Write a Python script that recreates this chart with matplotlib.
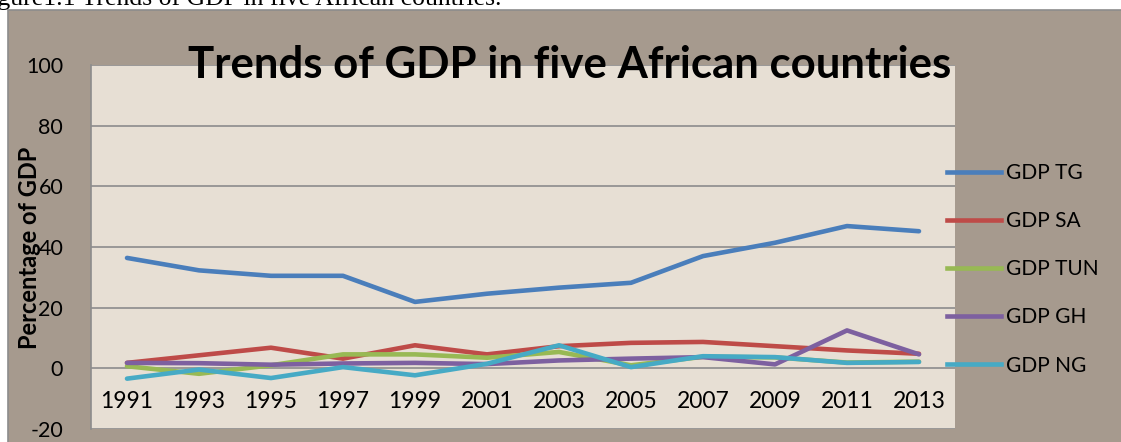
import matplotlib
matplotlib.use("Agg")
import matplotlib.pyplot as plt
from matplotlib.patches import Rectangle
from matplotlib.lines import Line2D

years = ["1991", "1993", "1995", "1997", "1999", "2001", "2003", "2005", "2007", "2009", "2011", "2013"]
gdp_tg = [36.4, 32.3, 30.5, 30.5, 21.9, 24.6, 26.6, 28.2, 37.0, 41.4, 46.9, 45.2]
gdp_sa = [1.8, 4.3, 6.8, 3.2, 7.6, 4.6, 7.3, 8.4, 8.7, 7.3, 5.9, 4.8]
gdp_tun = [0.7, -1.8, 1.0, 4.6, 4.6, 3.5, 5.4, 1.0, 3.8, 3.6, 1.9, 2.2]
gdp_gh = [1.8, 1.7, 1.2, 1.6, 1.8, 1.4, 2.6, 3.2, 3.7, 1.3, 12.5, 4.6]
gdp_ng = [-3.4, -0.4, -3.2, 0.4, -2.3, 1.5, 7.6, 0.4, 4.0, 3.7, 1.8, 2.1]

series = [
    ("GDP TG", gdp_tg, "#4A7EBB"),
    ("GDP SA", gdp_sa, "#BE4B48"),
    ("GDP TUN", gdp_tun, "#98B954"),
    ("GDP GH", gdp_gh, "#7D60A0"),
    ("GDP NG", gdp_ng, "#46AAC5"),
]

plt.rcParams['font.family'] = ['Lato', 'DejaVu Sans']

W, H = 1121, 442
fig = plt.figure(figsize=(W / 100, H / 100), dpi=100, facecolor="white")

# outer chart area
fig.patches.append(Rectangle((8 / W, -0.01), 1.0, (H - 10) / H + 0.01, transform=fig.transFigure,
                             facecolor="#A69A8E", edgecolor="#8C8C8C", linewidth=1.2, zorder=-5))

# caption above chart (partly cut off)
fig.text(502 / W, (H - 5) / H, "Figure1.1 Trends of GDP in five African countries.",
         family=["Liberation Serif"], fontsize=18.5, ha="right", va="baseline", color="black")

ax = fig.add_axes([91 / W, (H - 429) / H, (955 - 91) / W, (429 - 65) / H])
ax.set_zorder(2)
ax.set_facecolor("#E7DFD4")

x = list(range(len(years)))
for name, vals, col in series:
    ax.plot(x, vals, color=col, linewidth=3.3, label=name, solid_capstyle="round", zorder=3)

ax.set_xlim(-0.5, len(years) - 0.5)
ax.set_ylim(-20, 100)
ax.set_yticks([-20, 0, 20, 40, 60, 80, 100])
ax.set_yticklabels(["-20", "0", "20", "40", "60", "80", "100"])
ax.set_xticks(x)
ax.set_xticklabels(years)
ax.yaxis.grid(True, color="#8C8C8C", linewidth=1.2)
ax.set_axisbelow(True)
ax.tick_params(axis="y", length=0, pad=20, labelsize=15.5)
ax.tick_params(axis="x", length=0, pad=-27, labelsize=16.5)
for s in ["top", "right", "bottom"]:
    ax.spines[s].set_visible(False)
ax.spines["left"].set_color("#8C8C8C")
ax.spines["left"].set_linewidth(1.2)

fig.text(30 / W, (H - 248) / H, "Percentage of GDP", rotation=90, fontsize=17, fontweight="bold",
         ha="center", va="center", zorder=5)

fig.text(570 / W, (H - 78) / H, "Trends of GDP in five African countries", fontsize=31.5,
         fontweight="bold", ha="center", va="baseline", zorder=5)

handles = [Line2D([0], [0], color=c, linewidth=3.3) for _, _, c in series]
fig.legend(handles, [n for n, _, _ in series], loc="upper left",
           bbox_to_anchor=(947 / W, (H - 163) / H), frameon=False, fontsize=15,
           handlelength=2.6, handletextpad=0.25, labelspacing=1.35, borderpad=0, borderaxespad=0)

fig.savefig("out.png", dpi=100, facecolor="white")
